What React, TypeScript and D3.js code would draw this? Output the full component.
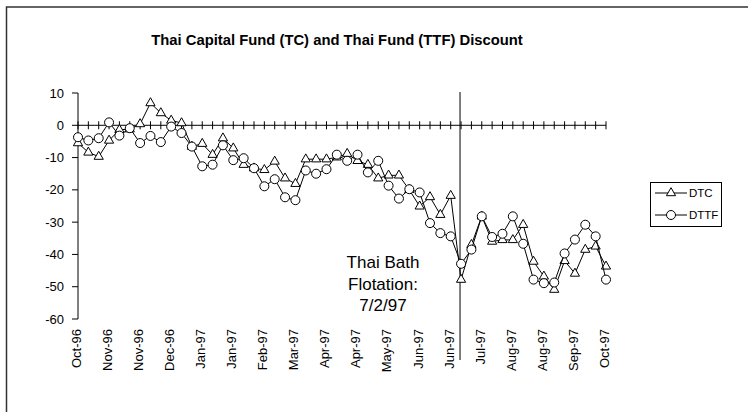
import React from "react";
import * as d3 from "d3";

const categories: string[] = [
  "Oct-96", "", "", "Nov-96", "", "", "Nov-96", "", "", "Dec-96", "", "",
  "Jan-97", "", "", "Jan-97", "", "", "Feb-97", "", "", "Mar-97", "", "",
  "Apr-97", "", "", "Apr-97", "", "", "May-97", "", "", "Jun-97", "", "",
  "Jun-97", "", "", "Jul-97", "", "", "Aug-97", "", "", "Aug-97", "", "",
  "Sep-97", "", "", "Oct-97",
];

const dtc: number[] = [
  -5.5, -8.4, -9.7, -4.7, -1.4, -1.2, 0.4, 6.9, 3.8, 1.5, 0.7, -6.6,
  -5.7, -9.1, -4.0, -7.1, -12.2, -13.3, -13.8, -11.2, -16.4, -18.1, -10.5, -10.5,
  -10.5, -9.9, -8.8, -11.0, -12.2, -16.4, -15.5, -15.5, -20.0, -25.1, -22.2, -27.7,
  -21.8, -47.8, -37.0, -28.2, -36.0, -35.5, -35.5, -30.8, -42.2, -46.8, -50.9, -42.0,
  -45.9, -38.5, -37.5, -43.7,
];

const dttf: number[] = [
  -3.7, -4.7, -4.0, 0.9, -3.2, -0.9, -5.5, -3.3, -5.2, -0.4, -2.4, -6.6,
  -12.7, -12.2, -6.2, -10.8, -10.2, -13.3, -18.9, -16.7, -22.3, -23.2, -14.0, -15.0,
  -13.6, -9.1, -11.0, -9.1, -14.6, -11.0, -18.7, -22.7, -19.8, -20.8, -30.3, -33.4,
  -34.4, -42.9, -38.5, -28.2, -34.6, -33.6, -28.2, -36.7, -47.8, -48.9, -48.7, -39.7,
  -35.4, -30.8, -34.4, -47.8,
];

const yTicks: number[] = [10, 0, -10, -20, -30, -40, -50, -60];
const seriesNames: string[] = ["DTC", "DTTF"];
const flotationIndex = 36.9;
const annotationLines: string[] = ["Thai Bath", "Flotation:", "7/2/97"];
const title = "Thai Capital Fund (TC) and Thai Fund (TTF) Discount";

const FONT = "'Liberation Sans', Arial, Helvetica, sans-serif";
const triPath = "M0,-5.3L4.6,2.7L-4.6,2.7Z";

export default function App() {
  const W = 748, H = 412;
  const x = d3.scaleLinear().domain([0, categories.length - 1]).range([78, 606]);
  const y = d3.scaleLinear().domain([-60, 10]).range([319, 93]);
  const line = d3.line<number>().x((_, i) => x(i)).y((d) => y(d));
  const y0 = y(0);

  return (
    <svg width={W} height={H} style={{ position: "absolute", left: 0, top: 0, background: "#fff" }} fontFamily={FONT}>
      <rect x={0} y={0} width={W} height={H} fill="#fff" />
      <path d={`M6.5,${H}V7H${W}`} fill="none" stroke="#333" strokeWidth={1.5} />
      <text x={337} y={45} textAnchor="middle" fontSize={14.8} fontWeight="bold">{title}</text>

      {/* y axis */}
      <line x1={x(0)} x2={x(0)} y1={y(10)} y2={y(-60)} stroke="#000" />
      {yTicks.map((t) => (
        <g key={t}>
          <line x1={x(0) - 6} x2={x(0)} y1={y(t)} y2={y(t)} stroke="#000" />
          <text x={x(0) - 14} y={y(t)} dy="0.35em" textAnchor="end" fontSize={13}>{t}</text>
        </g>
      ))}

      {/* x axis at zero */}
      <line x1={x(0)} x2={x(categories.length - 1)} y1={y0} y2={y0} stroke="#000" />
      {categories.map((c, i) => (
        <line key={"t" + i} x1={x(i)} x2={x(i)} y1={y0 - 4} y2={y0 + 4} stroke="#000" />
      ))}
      {categories.map((c, i) =>
        c ? (
          <text key={"l" + i} transform={`translate(${x(i)},${y(-60) + 10}) rotate(-90)`} dy="0.22em" textAnchor="end" fontSize={13}>
            {c}
          </text>
        ) : null
      )}

      {/* flotation line */}
      <line x1={x(flotationIndex)} x2={x(flotationIndex)} y1={92} y2={360} stroke="#000" />
      {annotationLines.map((s, k) => (
        <text key={s} x={383} y={268 + k * 21.5} textAnchor="middle" fontSize={17}>{s}</text>
      ))}

      {/* DTC */}
      <path d={line(dtc) || ""} fill="none" stroke="#000" />
      {dtc.map((v, i) => (
        <path key={"a" + i} d={triPath} transform={`translate(${x(i)},${y(v)})`} fill="#fff" stroke="#000" />
      ))}
      {/* DTTF */}
      <path d={line(dttf) || ""} fill="none" stroke="#000" />
      {dttf.map((v, i) => (
        <circle key={"b" + i} cx={x(i)} cy={y(v)} r={4.5} fill="#fff" stroke="#000" />
      ))}

      {/* legend */}
      <rect x={650.5} y={182.5} width={71} height={44} fill="#fff" stroke="#000" />
      {seriesNames.map((n, k) => {
        const ly = 193 + k * 22;
        return (
          <g key={n}>
            <line x1={655} x2={687} y1={ly} y2={ly} stroke="#000" />
            {k === 0 ? (
              <path d={triPath} transform={`translate(671,${ly})`} fill="#fff" stroke="#000" />
            ) : (
              <circle cx={671} cy={ly} r={4.5} fill="#fff" stroke="#000" />
            )}
            <text x={689} y={ly} dy="0.35em" fontSize={11.5}>{n}</text>
          </g>
        );
      })}
    </svg>
  );
}
